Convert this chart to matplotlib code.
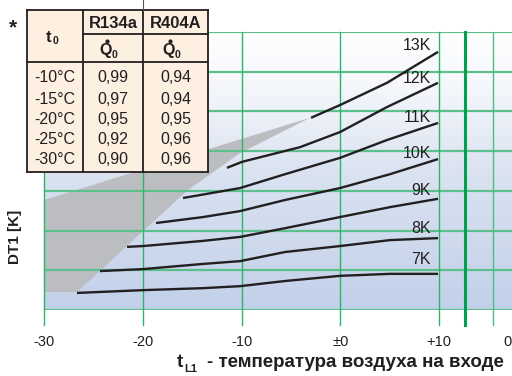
import numpy as np
import matplotlib.pyplot as plt
from matplotlib.colors import LinearSegmentedColormap
from matplotlib.patches import Polygon, Rectangle

plt.rcParams['font.family'] = ['Liberation Sans', 'DejaVu Sans']

# correction factors table
evap_temps = ["-10°C", "-15°C", "-20°C", "-25°C", "-30°C"]
q_r134a = [0.99, 0.97, 0.95, 0.92, 0.90]
q_r404a = [0.94, 0.94, 0.95, 0.96, 0.96]

# DT1 curves: air inlet temperature vs. capacity scale
curve_labels = ["7K", "8K", "9K", "10K", "11K", "12K", "13K"]
curve_x = [
    [-26.66, -19.97, -13.90, -10.15, -5.59, -0.03, 5.04, 9.90],
    [-24.33, -19.97, -13.90, -10.15, -5.59, -0.03, 5.04, 9.90],
    [-21.59, -19.97, -13.90, -10.15, -5.59, -0.03, 5.04, 9.90],
    [-18.66, -13.90, -10.15, -5.59, -0.03, 5.04, 9.90],
    [-15.92, -10.15, -5.59, -0.03, 4.73, 9.90],
    [-11.47, -9.95, -4.08, -0.03, 4.73, 9.90],
    [-2.96, -0.03, 4.73, 9.90],
]
curve_y = [
    [0.43, 0.50, 0.55, 0.60, 0.73, 0.86, 0.91, 0.91],
    [0.98, 1.03, 1.16, 1.23, 1.46, 1.61, 1.76, 1.81],
    [1.59, 1.61, 1.74, 1.84, 2.06, 2.34, 2.59, 2.80],
    [2.19, 2.34, 2.49, 2.77, 3.07, 3.42, 3.80],
    [2.82, 3.07, 3.42, 3.83, 4.28, 4.71],
    [3.58, 3.73, 4.10, 4.48, 5.11, 5.72],
    [4.84, 5.16, 5.72, 6.50],
]
label_y = [1.26, 2.06, 3.02, 3.95, 4.84, 5.82, 6.67]

# grey area outside the operating range
grey_x = [-30.0, -3.06, -10.15, -15.42, -19.97, -26.66, -30.0]
grey_y = [2.77, 4.84, 3.95, 3.02, 1.99, 0.45, 0.45]

x_ticks = [-30, -20, -10, 0, 10]
x_ticklabels = ["-30", "-20", "-10", "±0", "+10"]

txt = '#231f20'
green = '#2db36a'

fig = plt.figure(figsize=(5.12, 3.76), dpi=100)
ax = fig.add_axes([44 / 512, 66 / 376, 468 / 512, 278 / 376])
ax.set_xlim(-30, 17.39)
ax.set_ylim(0, 7)

bg = LinearSegmentedColormap.from_list('bg', [(0, '#c2d0e9'), (0.5, '#dbe3f1'),
                                              (0.82, '#f6f8fc'), (1, '#ffffff')])
grad = np.linspace(0, 1, 256).reshape(-1, 1)
ax.imshow(grad, extent=[-30, 17.39, 0, 7], origin='lower', cmap=bg,
          aspect='auto', zorder=0)

ax.add_patch(Polygon(list(zip(grey_x, grey_y)), closed=True,
                     facecolor='#bcbdc0', edgecolor='none', zorder=1))

for y in range(8):
    ax.axhline(y, color='#5cc08c', lw=1.6, zorder=2)
drop = -15 / 278
for x in x_ticks:
    ax.axvline(x, ymin=drop, color=green, lw=1.0, clip_on=False, zorder=2)
ax.axvline(12.63, ymin=drop, color='#00a04f', lw=2.2, clip_on=False, zorder=2)
ax.axvline(15.47, ymin=drop, color='#4dbd84', lw=1.0, clip_on=False, zorder=2)

for xs, ys, lab, ly in zip(curve_x, curve_y, curve_labels, label_y):
    ax.plot(xs, ys, color=txt, lw=1.7, solid_capstyle='butt',
            solid_joinstyle='round', zorder=3)
    ax.text(9.2, ly, lab, ha='right', va='center', fontsize=11.5, color=txt, zorder=4)

tr = ax.get_xaxis_transform()
for x, lab in zip(x_ticks, x_ticklabels):
    ax.text(x, -0.115, lab, transform=tr, ha='center', va='center', fontsize=10.5, color=txt)
ax.text(16.9, -0.115, "0", transform=tr, ha='center', va='center', fontsize=10.5,
        color=txt, clip_on=False)
ax.set_xticks([])
ax.set_yticks([])
for s in ax.spines.values():
    s.set_visible(False)

# overlay in pixel coordinates for table and labels
ov = fig.add_axes([0, 0, 1, 1])
ov.set_xlim(0, 512)
ov.set_ylim(376, 0)
ov.axis('off')
ov.patch.set_alpha(0)

ov.text(177, 367, "t", fontsize=13.5, fontweight='bold', color=txt, ha='left', va='baseline')
ov.text(184, 371.5, "L1", fontsize=8, fontweight='bold', color=txt, ha='left', va='baseline')
ov.text(207, 367, "- температура воздуха на входе", fontsize=13.5, fontweight='bold',
        color=txt, ha='left', va='baseline')
ov.text(15, 237, "DT1 [K]", rotation=90, fontsize=11, fontweight='bold', color=txt,
        ha='center', va='center')

# table
cols = [27, 83, 143, 208]
rows = [10, 34, 62, 172]
ov.add_patch(Rectangle((cols[0], rows[0]), cols[3] - cols[0], rows[3] - rows[0],
                       facecolor='#fdf0e1', edgecolor='none', zorder=5))
lw = 1.3
for x in cols:
    ov.plot([x, x], [rows[0], rows[3]], color=txt, lw=lw, zorder=6, solid_capstyle='projecting')
ov.plot([cols[0], cols[3]], [rows[0], rows[0]], color=txt, lw=lw, zorder=6, solid_capstyle='projecting')
ov.plot([cols[1], cols[3]], [rows[1], rows[1]], color=txt, lw=lw, zorder=6)
ov.plot([cols[0], cols[3]], [rows[2], rows[2]], color=txt, lw=lw, zorder=6)
ov.plot([cols[0], cols[3]], [rows[3], rows[3]], color=txt, lw=lw, zorder=6, solid_capstyle='projecting')
ov.plot([143, 143], [0, rows[0]], color='#555555', lw=0.8, zorder=6)

ov.text(13, 28, "*", fontsize=15, fontweight='bold', color=txt, ha='center', va='center', zorder=7)
ov.text(49, 37, "t", fontsize=12, fontweight='bold', color=txt, ha='center', va='center', zorder=7)
ov.text(53, 41, "0", fontsize=7.5, fontweight='bold', color=txt, ha='left', va='center', zorder=7)
for cx, name in [(113, "R134a"), (176, "R404A")]:
    ov.text(cx, 23, name, fontsize=12, fontweight='bold', color=txt, ha='center', va='center', zorder=7)
    ov.text(cx - 1, 51, "Q", fontsize=11.5, fontweight='bold', color=txt, ha='right', va='center', zorder=7)
    ov.plot([cx - 6.5], [41], marker='o', ms=2, color=txt, zorder=7)
    ov.text(cx - 1, 55, "0", fontsize=7.5, fontweight='bold', color=txt, ha='left', va='center', zorder=7)

row_y = [78, 99, 119, 139, 160]
for ry, t, a, b in zip(row_y, evap_temps, q_r134a, q_r404a):
    ov.text(34, ry, t, fontsize=11.5, color=txt, ha='left', va='center', zorder=7)
    ov.text(113, ry, f"{a:.2f}".replace('.', ','), fontsize=11.5, color=txt,
            ha='center', va='center', zorder=7)
    ov.text(176, ry, f"{b:.2f}".replace('.', ','), fontsize=11.5, color=txt,
            ha='center', va='center', zorder=7)

fig.savefig('out.png', dpi=100)
